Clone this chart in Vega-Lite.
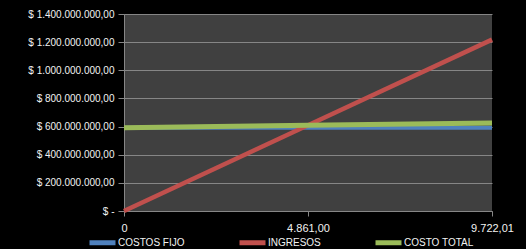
{
  "$schema": "https://vega.github.io/schema/vega-lite/v6.json",
  "width": 368,
  "height": 197,
  "autosize": {"type": "none"},
  "padding": {"left": 124, "top": 14, "right": 34, "bottom": 38},
  "background": "black",
  "config": {
    "locale": {"number": {"decimal": ",", "thousands": ".", "grouping": [3], "currency": ["$ ", ""]}},
    "view": {"fill": "#404040", "stroke": null},
    "font": "Liberation Sans"
  },
  "data": {
    "values": [
      {"unidades": 0, "valor": 592000000, "serie": "COSTOS FIJO"},
      {"unidades": 4861, "valor": 592000000, "serie": "COSTOS FIJO"},
      {"unidades": 9722.01, "valor": 592000000, "serie": "COSTOS FIJO"},
      {"unidades": 0, "valor": 0, "serie": "INGRESOS"},
      {"unidades": 4861, "valor": 609000000, "serie": "INGRESOS"},
      {"unidades": 9722.01, "valor": 1218000000, "serie": "INGRESOS"},
      {"unidades": 0, "valor": 592000000, "serie": "COSTO TOTAL"},
      {"unidades": 4861, "valor": 609000000, "serie": "COSTO TOTAL"},
      {"unidades": 9722.01, "valor": 626000000, "serie": "COSTO TOTAL"}
    ]
  },
  "encoding": {
    "x": {
      "field": "unidades", "type": "quantitative",
      "scale": {"domain": [0, 9722.01], "nice": false, "zero": true},
      "axis": {
        "title": null, "values": [0, 4861, 9722.01], "format": ",.2f",
        "labelExpr": "datum.value === 0 ? '0' : datum.label",
        "grid": false, "domainColor": "#868686", "tickColor": "#868686",
        "tickSize": 5, "labelPadding": 6, "labelFontSize": 11, "labelColor": "#F2F2F2",
        "labelFont": "Liberation Sans", "labelOverlap": false, "labelFlush": false
      }
    },
    "y": {
      "field": "valor", "type": "quantitative",
      "scale": {"domain": [0, 1400000000], "nice": false},
      "axis": {
        "title": null, "values": [0, 200000000, 400000000, 600000000, 800000000, 1000000000, 1200000000, 1400000000],
        "format": ",.2f",
        "labelExpr": "datum.value === 0 ? '$ -' : '$ ' + datum.label",
        "gridColor": "#868686", "gridWidth": 1, "domainColor": "#868686", "tickColor": "#868686",
        "tickSize": 6, "labelPadding": 4, "labelFontSize": 10, "labelColor": "#F2F2F2",
        "labelFont": "Liberation Sans", "labelOverlap": false
      }
    },
    "color": {
      "field": "serie", "type": "nominal",
      "scale": {"domain": ["COSTOS FIJO", "INGRESOS", "COSTO TOTAL"], "range": ["#4F81BD", "#C0504D", "#9BBB59"]},
      "legend": {
        "title": null, "orient": "none", "legendX": -37, "legendY": 213,
        "direction": "horizontal", "columns": 3, "padding": 0,
        "symbolType": "stroke", "symbolSize": 676, "symbolStrokeWidth": 5,
        "labelOffset": 0, "columnPadding": 44, "labelFontSize": 10, "labelColor": "#F2F2F2",
        "labelFont": "Liberation Sans", "labelLimit": 200
      }
    }
  },
  "layer": [
    {"transform": [{"filter": "datum.serie === 'COSTOS FIJO'"}], "mark": {"type": "line", "strokeWidth": 4}},
    {"transform": [{"filter": "datum.serie === 'INGRESOS'"}], "mark": {"type": "line", "strokeWidth": 4.5}},
    {"transform": [{"filter": "datum.serie === 'COSTO TOTAL'"}], "mark": {"type": "line", "strokeWidth": 5}}
  ]
}
